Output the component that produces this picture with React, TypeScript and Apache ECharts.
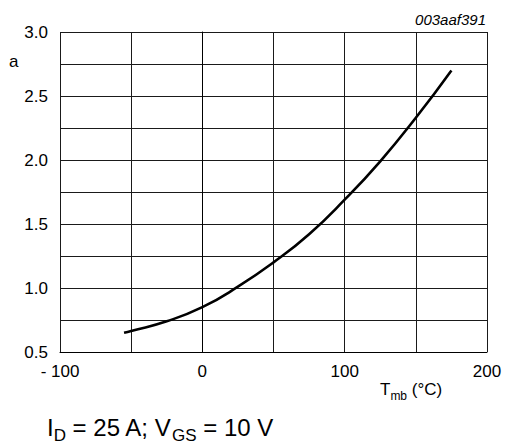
import React, { useEffect, useRef } from "react";
import * as echarts from "echarts";

const temps = [-55, -50, -25, 0, 25, 50, 75, 100, 125, 150, 175];
const ratio = [0.65, 0.664, 0.74, 0.85, 1.01, 1.2, 1.42, 1.69, 1.99, 2.33, 2.7];
const xLabelValues = [-100, 0, 100, 200];
const yLabelValues = [0.5, 1.0, 1.5, 2.0, 2.5, 3.0];

export default function App() {
  const ref = useRef<HTMLDivElement>(null);
  useEffect(() => {
    document.body.style.margin = "0";
    const chart = echarts.init(ref.current!, null, { renderer: "svg" });
    const font = "Arial, 'Liberation Sans', sans-serif";
    chart.setOption({
      animation: false,
      backgroundColor: "#ffffff",
      textStyle: { fontFamily: font },
      grid: { left: 60, right: 19, top: 32, bottom: 94 },
      xAxis: {
        type: "value",
        min: -100,
        max: 200,
        interval: 50,
        axisLine: { show: true, lineStyle: { color: "#000", width: 1 } },
        axisTick: { show: false },
        splitLine: { show: true, lineStyle: { color: "#1a1a1a", width: 1 } },
        axisLabel: {
          color: "#000",
          fontSize: 17,
          fontFamily: font,
          margin: 11,
          formatter: (v: number) =>
            xLabelValues.includes(v) ? (v < 0 ? "- " + Math.abs(v) : String(v)) : "",
        },
      },
      yAxis: {
        type: "value",
        min: 0.5,
        max: 3.0,
        interval: 0.25,
        axisLine: { show: true, lineStyle: { color: "#000", width: 1 } },
        axisTick: { show: false },
        splitLine: { show: true, lineStyle: { color: "#1a1a1a", width: 1 } },
        axisLabel: {
          color: "#000",
          fontSize: 17,
          fontFamily: font,
          margin: 12,
          formatter: (v: number) =>
            yLabelValues.some((t) => Math.abs(t - v) < 1e-6) ? v.toFixed(1) : "",
        },
      },
      series: [
        {
          type: "line",
          data: temps.map((t, i) => [t, ratio[i]]),
          smooth: 0.5,
          showSymbol: false,
          lineStyle: { color: "#000", width: 2.6 },
        },
      ],
      graphic: [
        {
          type: "text",
          right: 20,
          top: 12,
          style: {
            text: "003aaf391",
            fontSize: 15,
            fontStyle: "italic",
            fontFamily: font,
            fill: "#000",
          },
        },
        {
          type: "text",
          left: 9,
          top: 53,
          style: { text: "a", fontSize: 17, fontFamily: font, fill: "#000" },
        },
        {
          type: "text",
          left: 380,
          top: 381,
          style: {
            text: "{m|T}{s|mb}{m| (°C)}",
            fontFamily: font,
            fill: "#000",
            rich: {
              m: { fontSize: 17, fontFamily: font, fill: "#000", verticalAlign: "bottom" },
              s: { fontSize: 12, fontFamily: font, fill: "#000", padding: [0, 0, -4, 0], verticalAlign: "bottom" },
            },
          },
        },
        {
          type: "text",
          left: 47,
          top: 415,
          style: {
            text: "{m|I}{s|D}{m| = 25 A; V}{s|GS}{m| = 10 V}",
            fontFamily: font,
            fill: "#000",
            rich: {
              m: { fontSize: 24, lineHeight: 24, fontFamily: font, fill: "#000", verticalAlign: "bottom" },
              s: { fontSize: 17, lineHeight: 18, fontFamily: font, fill: "#000", padding: [0, 0, -5, 0], verticalAlign: "bottom" },
            },
          },
        },
      ],
    });
    return () => chart.dispose();
  }, []);
  return <div ref={ref} style={{ width: 506, height: 446 }} />;
}
